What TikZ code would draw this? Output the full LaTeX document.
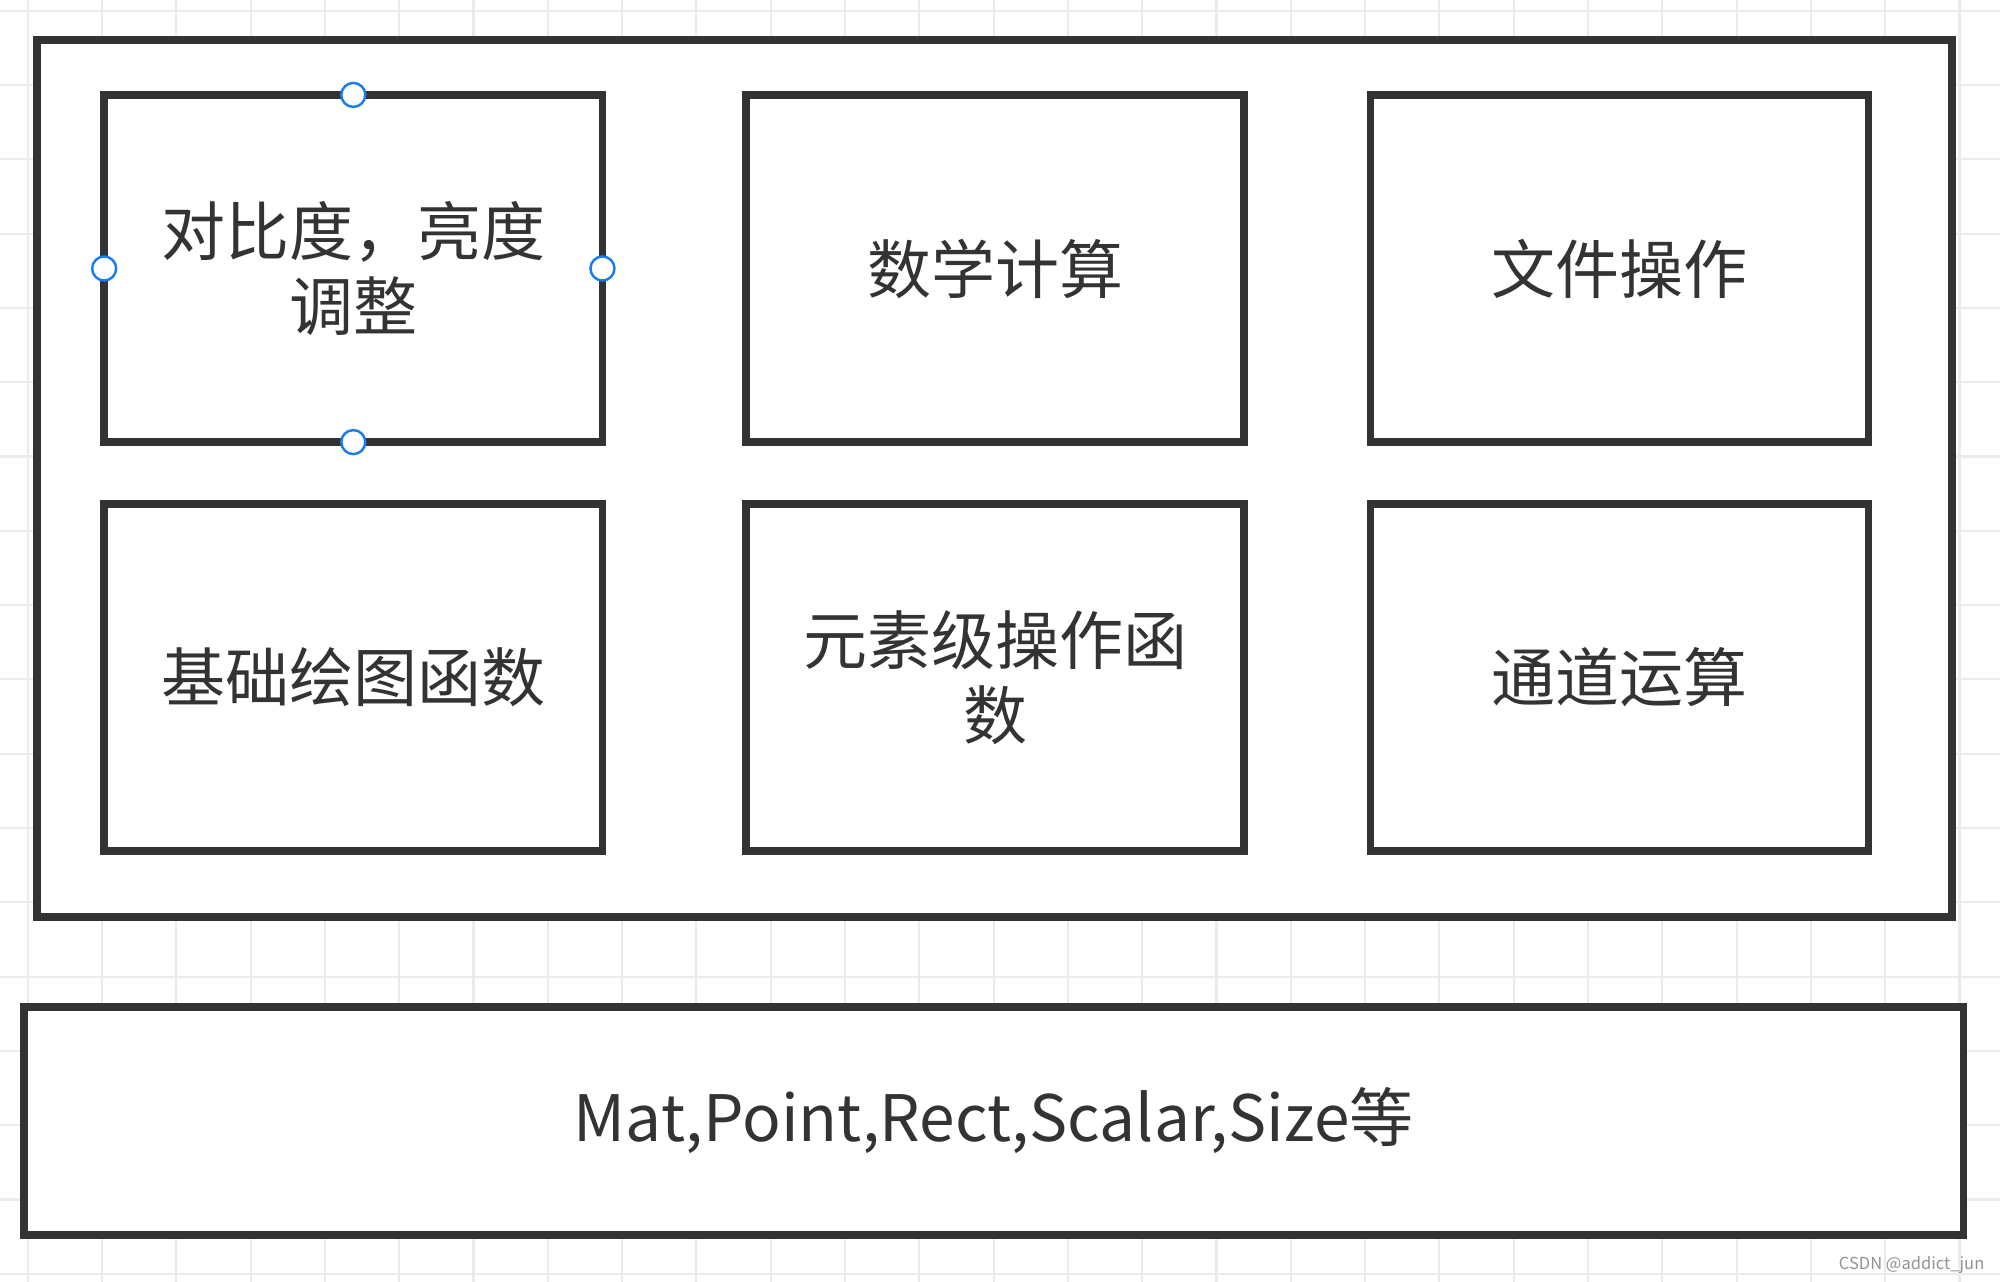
\documentclass[tikz,border=0pt]{standalone}
\usepackage{fontspec}
\setmainfont{Noto Sans CJK SC}
\usetikzlibrary{positioning}
\definecolor{BoxGray}{HTML}{333333}
\definecolor{GridGray}{HTML}{EBEBEB}
\definecolor{HandleBlue}{HTML}{1A7CF0}

\begin{document}
\begin{tikzpicture}[
  x=0.01cm, y=-0.01cm,
  box/.style    = {draw=BoxGray, line width=2.1pt, fill=white, align=center,
                   minimum width=4.98cm, minimum height=3.47cm, inner sep=0pt,
                   outer sep=0pt, text=BoxGray,
                   font=\fontsize{18.2}{21.4}\selectfont},
  frame/.style  = {draw=BoxGray, line width=2.3pt, fill=white, inner sep=0pt},
  handle/.style = {circle, draw=HandleBlue, fill=white, line width=0.7pt,
                   minimum size=0.24cm, inner sep=0pt},
  gridline/.style = {GridGray, line width=0.6pt}
]

%% ---- canvas and editor grid --------------------------------------------
\useasboundingbox[fill=white] (0,0) rectangle (2000,1282);
\foreach \i in {0,...,26} \draw[gridline] (27.7+74.3*\i,0) -- (27.7+74.3*\i,1282);
\foreach \j in {0,...,17} \draw[gridline] (0,10.7+74.3*\j) -- (2000,10.7+74.3*\j);

%% ---- function layer: outer frame with six modules ---------------------
\node[frame, minimum width=19.135cm, minimum height=8.767cm] (funcs) at (994.75,478.35) {};

\node[box] (contrast) at (353.3,268.5) {对比度，亮度\\调整};
\node[box] (math)     at (995,268.5)   {数学计算};
\node[box] (file)     at (1619.5,268.5) {文件操作};
\node[box] (draw)     at (353.3,677.5) {基础绘图函数};
\node[box] (elem)     at (995,677.5)   {元素级操作函\\数};
\node[box] (chan)     at (1619.5,677.5) {通道运算};

%% selection handles on the active box
\foreach \side in {north,south,west,east}
  \node[handle] (h-\side) at (contrast.\side) {};

%% ---- basic data structures --------------------------------------------
\node[box, minimum width=19.385cm, minimum height=2.28cm] (types) at (993.75,1121)
  {Mat,Point,Rect,Scalar,Size等};

\node[font=\fontsize{4.7}{6}\selectfont, text=gray!85, anchor=east, inner sep=0pt] (mark)
  at (1985,1265) {CSDN @addict\_jun};

\end{tikzpicture}
\end{document}
